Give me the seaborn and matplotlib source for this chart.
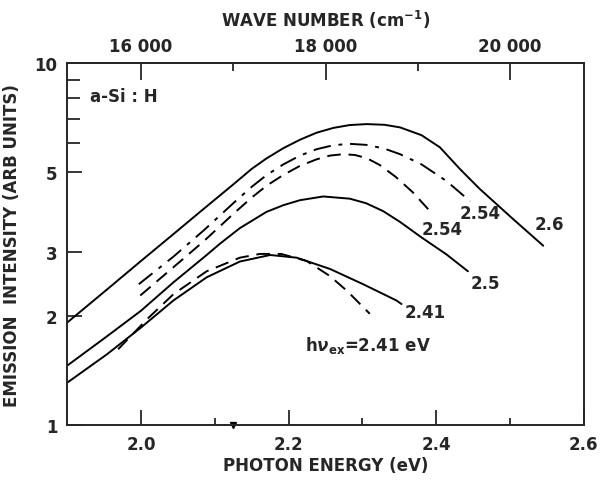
import numpy as np
import pandas as pd
import seaborn as sns
import matplotlib.pyplot as plt
from matplotlib.ticker import FixedLocator, NullFormatter

# photon energy (eV) / emission intensity (arb. units)
e_260 = [1.900, 1.954, 2.000, 2.044, 2.080, 2.125, 2.150, 2.170, 2.193, 2.2155,
         2.238, 2.261, 2.283, 2.306, 2.330, 2.351, 2.380, 2.405, 2.432, 2.459,
         2.504, 2.545]
i_260 = [1.92, 2.37, 2.84, 3.37, 3.88, 4.62, 5.10, 5.45, 5.82, 6.14,
         6.42, 6.62, 6.74, 6.78, 6.75, 6.64, 6.32, 5.85, 5.10, 4.49,
         3.71, 3.13]

e_254a = [1.997, 2.044, 2.085, 2.105, 2.125, 2.150, 2.170, 2.193, 2.2155, 2.238,
          2.261, 2.283, 2.306, 2.330, 2.351, 2.380, 2.414, 2.446]
i_254a = [2.45, 2.92, 3.45, 3.76, 4.10, 4.55, 4.90, 5.25, 5.55, 5.78,
          5.93, 5.98, 5.94, 5.80, 5.60, 5.25, 4.72, 4.15]

e_254b = [1.999, 2.044, 2.085, 2.105, 2.125, 2.150, 2.170, 2.193, 2.2155, 2.238,
          2.256, 2.274, 2.290, 2.306, 2.324, 2.345, 2.368, 2.391]
i_254b = [2.28, 2.73, 3.22, 3.51, 3.83, 4.25, 4.58, 4.91, 5.20, 5.42,
          5.55, 5.60, 5.57, 5.46, 5.22, 4.85, 4.40, 3.91]

e_250 = [1.900, 1.954, 2.000, 2.044, 2.089, 2.107, 2.134, 2.170, 2.193, 2.2155,
         2.247, 2.283, 2.305, 2.328, 2.351, 2.380, 2.414, 2.443]
i_250 = [1.46, 1.76, 2.07, 2.48, 2.95, 3.17, 3.50, 3.88, 4.05, 4.18,
         4.28, 4.22, 4.10, 3.90, 3.64, 3.30, 2.96, 2.66]

e_241 = [1.900, 1.954, 2.000, 2.044, 2.089, 2.134, 2.175, 2.211, 2.256, 2.301,
         2.346, 2.353]
i_241 = [1.31, 1.57, 1.86, 2.21, 2.56, 2.83, 2.95, 2.90, 2.70, 2.45,
         2.21, 2.16]

e_241d = [1.969, 2.008, 2.044, 2.089, 2.134, 2.161, 2.190, 2.2245, 2.256, 2.279, 2.310]
i_241d = [1.62, 1.96, 2.30, 2.66, 2.90, 2.97, 2.97, 2.84, 2.58, 2.35, 2.03]

curve_labels = ["2.6", "2.54", "2.54", "2.5", "2.41"]
label_x = [2.554, 2.459, 2.408, 2.466, 2.385]
label_y = [3.59, 3.85, 3.48, 2.47, 2.05]

x_ticks = [2.0, 2.2, 2.4, 2.6]
x_minor = [2.1, 2.3, 2.5]
y_ticks = [1, 2, 3, 5, 10]
y_minor = [6, 7, 8, 9]
wn_ticks = [16000, 18000, 20000]
wn_minor = [17000, 19000]

sns.set_style("ticks")
plt.rcParams["font.family"] = ["DejaVu Sans"]
plt.rcParams["font.weight"] = "bold"

fig = plt.figure(figsize=(6, 4.81), dpi=100)
ax = fig.add_axes([0.112, 0.114, 0.861, 0.753])

lw = 1.4
sns.lineplot(x=e_260, y=i_260, ax=ax, color="black", lw=lw, sort=False)
sns.lineplot(x=e_254a, y=i_254a, ax=ax, color="black", lw=lw, sort=False).lines[-1].set_dashes([9, 4, 2, 4])
sns.lineplot(x=e_254b, y=i_254b, ax=ax, color="black", lw=lw, sort=False).lines[-1].set_dashes([7, 4])
sns.lineplot(x=e_250, y=i_250, ax=ax, color="black", lw=lw, sort=False)
sns.lineplot(x=e_241, y=i_241, ax=ax, color="black", lw=lw, sort=False)
sns.lineplot(x=e_241d, y=i_241d, ax=ax, color="black", lw=lw, sort=False).lines[-1].set_dashes([7, 4])
for ln in ax.lines:
    ln.set_solid_joinstyle("round")
    ln.set_dash_joinstyle("round")

ax.set_yscale("log")
ax.set_xlim(1.9, 2.6)
ax.set_ylim(1, 10)

ax.xaxis.set_major_locator(FixedLocator(x_ticks))
ax.xaxis.set_minor_locator(FixedLocator(x_minor))
ax.set_xticklabels([f"{t:.1f}" for t in x_ticks])
ax.yaxis.set_major_locator(FixedLocator(y_ticks))
ax.yaxis.set_minor_locator(FixedLocator(y_minor))
ax.set_yticklabels([str(t) for t in y_ticks])
ax.yaxis.set_minor_formatter(NullFormatter())

ax.tick_params(which="both", direction="in", width=1.3, labelsize=12, pad=7)
ax.tick_params(axis="x", which="major", length=11)
ax.tick_params(axis="x", which="minor", length=5)
ax.tick_params(axis="y", which="major", length=11)
ax.tick_params(axis="y", which="minor", length=9)
for sp in ax.spines.values():
    sp.set_linewidth(1.4)
    sp.set_visible(True)

ax.set_xlabel("PHOTON ENERGY (eV)", fontsize=12, fontweight="bold", labelpad=2)
ax.set_ylabel("EMISSION  INTENSITY (ARB UNITS)", fontsize=12, fontweight="bold", labelpad=10)

top = ax.secondary_xaxis("top", functions=(lambda e: e * 8000.0, lambda w: w / 8000.0))
top.xaxis.set_major_locator(FixedLocator(wn_ticks))
top.xaxis.set_minor_locator(FixedLocator(wn_minor))
top.set_xticklabels(["16 000", "18 000", "20 000"])
top.tick_params(which="both", direction="in", width=1.3, labelsize=12, pad=6)
top.tick_params(which="major", length=12)
top.tick_params(which="minor", length=6)
top.spines["top"].set_linewidth(1.4)
top.set_xlabel("WAVE NUMBER (cm$^{-1}$)", fontsize=12, fontweight="bold", labelpad=8)

for txt, lx, ly in zip(curve_labels, label_x, label_y):
    ax.text(lx, ly, txt, fontsize=12, ha="center", va="center")

ax.text(1.931, 8.1, "a-Si : H", fontsize=12, ha="left", va="center")
ax.text(2.222, 1.675, r"h$\nu_{\mathbf{ex}}$=2.41 eV", fontsize=12, ha="left", va="center")
ax.plot([2.125], [1.0], marker="v", color="black", ms=4, clip_on=False)

fig.savefig("out.png", dpi=100)
